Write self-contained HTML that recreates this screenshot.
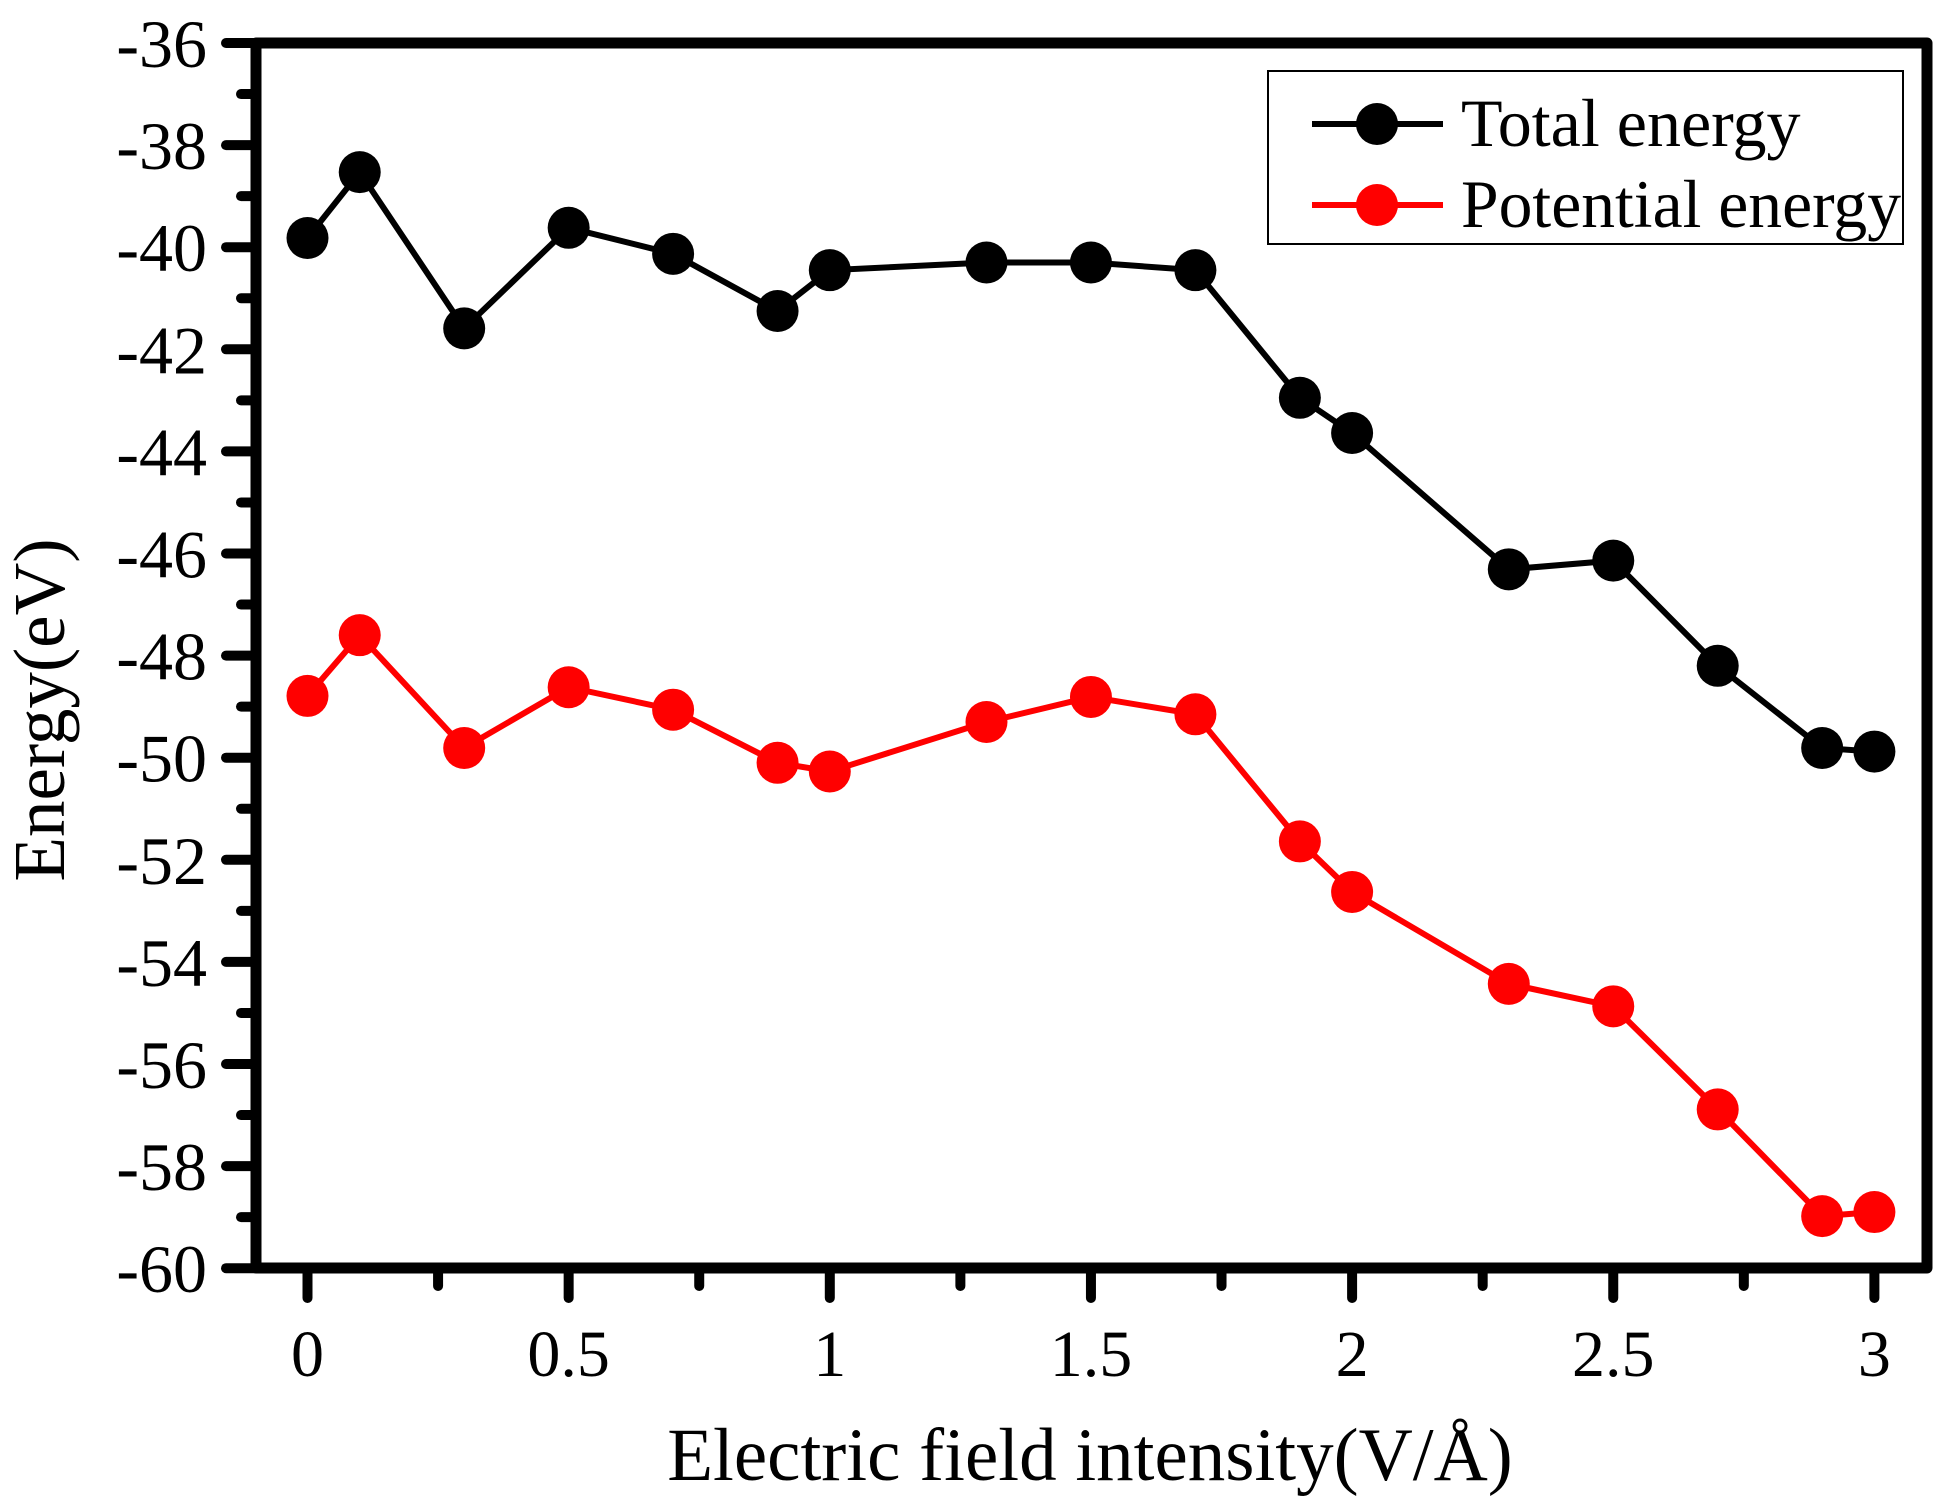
<!DOCTYPE html>
<html><head><meta charset="utf-8"><style>
html,body{margin:0;padding:0;background:#fff;}
svg{display:block;font-family:"Liberation Serif",serif;}
</style></head><body>
<svg id="c" width="1950" height="1511" xmlns="http://www.w3.org/2000/svg"></svg>
<script>
const s=document.getElementById('c');
const X=v=>307.5+v*522.3, Y=v=>43+(-36-v)*51.05;
let h='';
const xs=[0,0.1,0.3,0.5,0.7,0.9,1.0,1.3,1.5,1.7,1.9,2.0,2.3,2.5,2.7,2.9,3.0];
const tot=[-39.82,-38.53,-41.59,-39.62,-40.13,-41.25,-40.45,-40.30,-40.30,-40.45,-42.95,-43.64,-46.31,-46.14,-48.2,-49.81,-49.88];
const pot=[-48.79,-47.6,-49.81,-48.62,-49.06,-50.1,-50.27,-49.3,-48.81,-49.15,-51.64,-52.63,-54.43,-54.87,-56.89,-58.98,-58.9];
for(let v=-36;v>=-60;v--){const y=Y(v);const maj=(v%2===0);
 h+=`<line x1="${maj?226:241}" y1="${y}" x2="256" y2="${y}" stroke="#000" stroke-width="10" stroke-linecap="round"/>`;
 if(maj) h+=`<text x="207" y="${y+24}" font-size="68" text-anchor="end">${v}</text>`;}
for(let i=0;i<=12;i++){const v=i*0.25,x=X(v),maj=(i%2===0);
 h+=`<line x1="${x}" y1="1268" x2="${x}" y2="${maj?1298:1286}" stroke="#000" stroke-width="10" stroke-linecap="round"/>`;
 if(maj) h+=`<text x="${x}" y="1376" font-size="66" text-anchor="middle">${v}</text>`;}
h+=`<rect x="256" y="43" width="1671" height="1225" fill="none" stroke="#000" stroke-width="11" stroke-linejoin="round"/>`;
function ser(d,c){h+=`<polyline fill="none" stroke="${c}" stroke-width="6" points="${xs.map((x,i)=>X(x)+','+Y(d[i])).join(' ')}"/>`;
 xs.forEach((x,i)=>h+=`<circle cx="${X(x)}" cy="${Y(d[i])}" r="21" fill="${c}"/>`);}
ser(tot,'#000');ser(pot,'#ff0000');
h+=`<rect x="1268" y="71" width="635" height="173" fill="#fff" stroke="#000" stroke-width="2"/>`;
h+=`<line x1="1312" y1="124" x2="1443" y2="124" stroke="#000" stroke-width="6"/><circle cx="1377" cy="124" r="21" fill="#000"/>`;
h+=`<text x="1461" y="146" font-size="68">Total energy</text>`;
h+=`<line x1="1312" y1="205" x2="1443" y2="205" stroke="#f00" stroke-width="6"/><circle cx="1377" cy="205" r="21" fill="#f00"/>`;
h+=`<text x="1461" y="227" font-size="68" textLength="440" lengthAdjust="spacingAndGlyphs">Potential energy</text>`;
h+=`<text x="1090" y="1480" font-size="75" text-anchor="middle">Electric field intensity(V/Å)</text>`;
h+=`<text transform="translate(64,710) rotate(-90)" font-size="73" text-anchor="middle">Energy(eV)</text>`;
s.innerHTML=h;
</script>
</body></html>
